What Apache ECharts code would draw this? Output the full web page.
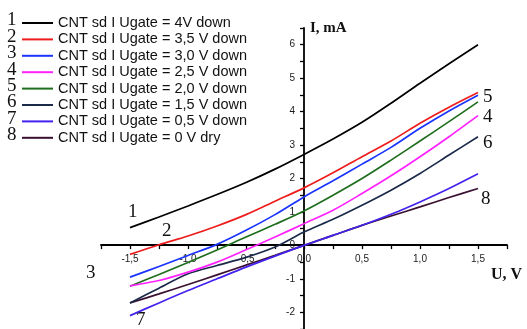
<!DOCTYPE html>
<html>
<head>
<meta charset="utf-8">
<script src="https://cdn.jsdelivr.net/npm/echarts@6/dist/echarts.min.js"></script>
<style>
html,body{margin:0;padding:0;background:#fff;}
#chart{width:527px;height:329px;}
</style>
</head>
<body>
<div id="chart"></div>
<script>
// Voltage U, V
const voltage = [-1.5, -1.25, -1.0, -0.75, -0.5, -0.25, 0, 0.25, 0.5, 0.75, 1.0, 1.25, 1.5];
// Current I, mA for each gate voltage
const curve1 = [0.53, 0.85, 1.18, 1.52, 1.88, 2.28, 2.72, 3.18, 3.68, 4.25, 4.85, 5.43, 6.0];
const curve2 = [-0.27, 0.02, 0.28, 0.58, 0.92, 1.32, 1.72, 2.17, 2.65, 3.12, 3.65, 4.13, 4.57];
const curve3 = [-0.95, -0.63, -0.3, 0.03, 0.45, 0.92, 1.45, 1.93, 2.43, 2.93, 3.5, 4.02, 4.49];
const curve4 = [-1.21, -1.05, -0.8, -0.5, -0.13, 0.25, 0.65, 1.05, 1.55, 2.08, 2.65, 3.25, 3.88];
const curve5 = [-1.22, -0.87, -0.51, -0.14, 0.25, 0.63, 1.03, 1.5, 2.0, 2.55, 3.12, 3.7, 4.29];
const curve6 = [-1.72, -1.28, -0.85, -0.6, -0.36, -0.05, 0.4, 0.78, 1.2, 1.65, 2.15, 2.7, 3.25];
const curve7 = [-2.1, -1.72, -1.35, -1.0, -0.65, -0.32, 0.0, 0.3, 0.6, 0.93, 1.3, 1.7, 2.14];
const curve8 = [-1.72, -1.45, -1.17, -0.88, -0.59, -0.3, 0.0, 0.3, 0.6, 0.88, 1.15, 1.43, 1.7];
const seriesNames = [
  'CNT sd I Ugate = 4V down',
  'CNT sd I Ugate = 3,5 V down',
  'CNT sd I Ugate = 3,0 V down',
  'CNT sd I Ugate = 2,5 V down',
  'CNT sd I Ugate = 2,0 V down',
  'CNT sd I Ugate = 1,5 V down',
  'CNT sd I Ugate = 0,5 V down',
  'CNT sd I Ugate = 0 V dry'
];
const legendNumbers = ['1', '2', '3', '4', '5', '6', '7', '8'];
const xTickValues = [-1.5, -1.0, -0.5, 0, 0.5, 1.0, 1.5];
const yTickValues = [-2, -1, 0, 1, 2, 3, 4, 5, 6];

const allCurves = [curve1, curve2, curve3, curve4, curve5, curve6, curve7, curve8];
const colors = ['#000000', '#ee1c1c', '#1a33ff', '#ff22ff', '#1e6e1e', '#1c2a4a', '#4422ee', '#3a1030'];

const X_MIN = -1.75, X_MAX = 1.75, Y_MIN = -2.5, Y_MAX = 6.5;
const GRID = {left: 101, top: 28, width: 406, height: 302};
// place the axes so that they cross at the origin
const xAxisOffset = -((0 - Y_MIN) / (Y_MAX - Y_MIN)) * GRID.height;
const yAxisOffset = -((0 - X_MIN) / (X_MAX - X_MIN)) * GRID.width;

const chart = echarts.init(document.getElementById('chart'), null, {renderer: 'canvas'});

const series = allCurves.map((c, i) => ({
  name: seriesNames[i],
  type: 'line',
  smooth: 0.3,
  showSymbol: false,
  symbol: 'none',
  data: voltage.map((u, k) => [u, c[k]]),
  lineStyle: {color: colors[i], width: 1.7},
  itemStyle: {color: colors[i]},
  z: 10 - i
}));

const serif = '"Liberation Serif", "DejaVu Serif", serif';
const sans = '"Liberation Sans", Arial, sans-serif';

const graphics = [];
legendNumbers.forEach((n, i) => {
  graphics.push({
    type: 'text', left: 7, top: 11 + i * 16.4,
    style: {text: n, font: '19px ' + serif, fill: '#111'}
  });
});
const curveLabels = [
  ['1', 128, 203], ['2', 162, 222], ['3', 86, 264], ['7', 136, 311],
  ['5', 483, 88], ['4', 483, 108], ['6', 483, 134], ['8', 481, 190]
];
curveLabels.forEach(l => {
  graphics.push({
    type: 'text', left: l[1], top: l[2],
    style: {text: l[0], font: '19px ' + serif, fill: '#111'}
  });
});

chart.setOption({
  animation: false,
  backgroundColor: '#fff',
  grid: {left: GRID.left, top: GRID.top, width: GRID.width, height: GRID.height, containLabel: false},
  legend: {
    orient: 'vertical',
    left: 17, top: 10,
    icon: 'rect',
    itemWidth: 31, itemHeight: 2,
    itemGap: 0.4,
    textStyle: {fontFamily: sans, fontSize: 14.5, color: '#111', lineHeight: 16},
    data: seriesNames
  },
  xAxis: {
    type: 'value',
    position: 'bottom',
    offset: xAxisOffset,
    min: X_MIN, max: X_MAX, interval: 0.25,
    axisLine: {show: true, onZero: false, lineStyle: {color: '#000', width: 1.8}},
    axisTick: {show: true, length: 4, lineStyle: {color: '#000', width: 1.3}},
    splitLine: {show: false},
    axisLabel: {
      margin: 9,
      fontFamily: sans, fontSize: 10, color: '#1a1a1a',
      formatter: v => {
        const hit = xTickValues.find(t => Math.abs(t - v) < 1e-6);
        return hit === undefined ? '' : hit.toFixed(1).replace('.', ',');
      }
    },
    name: 'U, V',
    nameLocation: 'end',
    nameGap: 15,
    nameTextStyle: {fontFamily: serif, fontSize: 16, fontWeight: 'bold', color: '#111', align: 'right', verticalAlign: 'top', padding: [22, 0, 0, 0]}
  },
  yAxis: {
    type: 'value',
    position: 'left',
    offset: yAxisOffset,
    min: Y_MIN, max: Y_MAX, interval: 0.5,
    axisLine: {show: true, onZero: false, lineStyle: {color: '#000', width: 1.8}},
    axisTick: {show: true, length: 4, lineStyle: {color: '#000', width: 1.3}},
    splitLine: {show: false},
    axisLabel: {
      margin: 9,
      fontFamily: sans, fontSize: 10, color: '#1a1a1a',
      formatter: v => {
        const hit = yTickValues.find(t => Math.abs(t - v) < 1e-6);
        return hit === undefined ? '' : String(hit);
      }
    },
    name: 'I, mA',
    nameLocation: 'end',
    nameGap: 0,
    nameTextStyle: {fontFamily: serif, fontSize: 15, fontWeight: 'bold', color: '#111', align: 'left', verticalAlign: 'middle', padding: [0, 0, 0, 6]}
  },
  graphic: graphics,
  series: series
});
</script>
</body>
</html>
